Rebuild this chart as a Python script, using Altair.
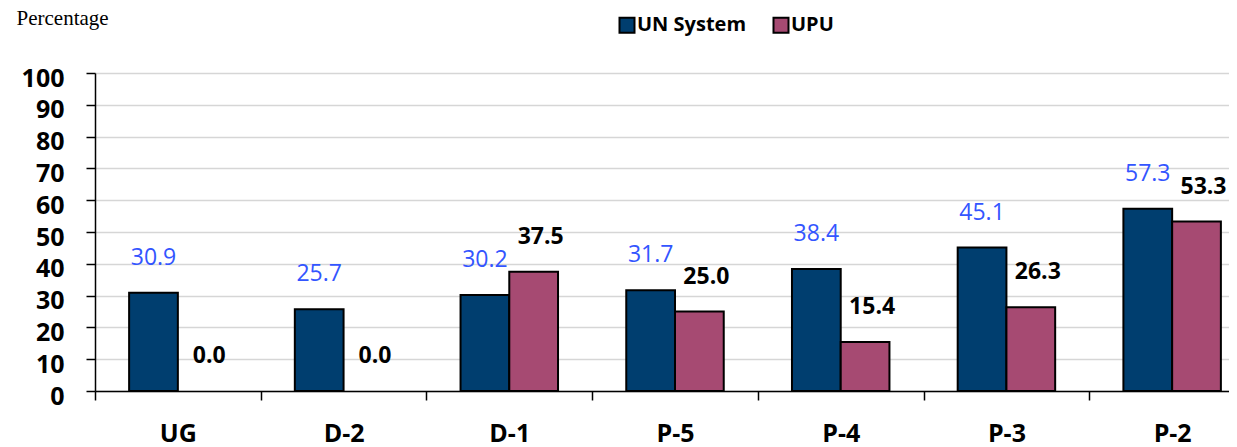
import altair as alt
import pandas as pd

categories = ["UG", "D-2", "D-1", "P-5", "P-4", "P-3", "P-2"]
series = ["UN System", "UPU"]
un_system = [30.9, 25.7, 30.2, 31.7, 38.4, 45.1, 57.3]
upu = [0.0, 0.0, 37.5, 25.0, 15.4, 26.3, 53.3]
y_ticks = list(range(0, 101, 10))

rows = []
for c, a, b in zip(categories, un_system, upu):
    rows.append({"category": c, "series": "UN System", "value": a})
    rows.append({"category": c, "series": "UPU", "value": b})
df = pd.DataFrame(rows)

FONT = "Open Sans"

x_enc = alt.X(
    "category:N",
    sort=categories,
    scale=alt.Scale(range=[0, 1160], paddingInner=0, paddingOuter=0),
    axis=alt.Axis(
        title=None, labelAngle=0, tickBand="extent", grid=False,
        labelFont=FONT, labelFontSize=25, labelFontWeight="bold", labelColor="black",
        labelBaseline="middle", labelPadding=33, labelOverlap=False,
        domainColor="black", domainWidth=1.5, tickColor="black", tickWidth=1.5, tickSize=9,
    ),
)
xoff_enc = alt.XOffset(
    "series:N", sort=series, scale=alt.Scale(domain=series, paddingInner=0, paddingOuter=0.7)
)
y_enc = alt.Y(
    "value:Q",
    scale=alt.Scale(domain=[0, 100], nice=False),
    axis=alt.Axis(
        values=y_ticks, title="Percentage", titleAngle=0, titleX=-79, titleY=-49,
        titleAlign="left", titleBaseline="alphabetic", titleFont="Liberation Serif",
        titleFontWeight="normal", titleFontSize=21, titleColor="black",
        labelFont=FONT, labelFontSize=25, labelFontWeight="bold", labelColor="black",
        labelBaseline="middle", labelOffset=5, labelPadding=22, labelOverlap=False,
        domainColor="black", domainWidth=1.5, tickColor="black", tickWidth=1.5, tickSize=9,
        grid=True, gridColor="#d6d6d6", gridWidth=1.5,
    ),
)

bars = alt.Chart(df).transform_filter(alt.datum.value > 0).mark_bar(
    stroke="black", strokeWidth=2
).encode(
    x=x_enc,
    xOffset=xoff_enc,
    y=y_enc,
    color=alt.Color(
        "series:N",
        sort=series,
        scale=alt.Scale(domain=series, range=["#003E6F", "#A64A72"]),
        legend=alt.Legend(
            title=None, orient="none", direction="horizontal",
            legendX=522, legendY=-58,
            symbolType="square", symbolSize=225, symbolStrokeColor="black",
            symbolStrokeWidth=2, symbolOpacity=1,
            labelFont=FONT, labelFontSize=20, labelFontWeight="bold", labelColor="black",
            labelOffset=0, columnPadding=22,
        ),
    ),
)

text_un = alt.Chart(df).transform_filter(alt.datum.series == "UN System").mark_text(
    font=FONT, fontSize=23, color="#3355FF", baseline="middle", dy=-35
).encode(
    x=x_enc,
    xOffset=xoff_enc,
    y=y_enc,
    text=alt.Text("value:Q", format=".1f"),
)

text_upu = alt.Chart(df).transform_filter(alt.datum.series == "UPU").mark_text(
    font=FONT, fontSize=23, fontWeight="bold", color="black", baseline="middle", dy=-35, dx=7
).encode(
    x=x_enc,
    xOffset=xoff_enc,
    y=y_enc,
    text=alt.Text("value:Q", format=".1f"),
)

chart = alt.layer(bars, text_un, text_upu).properties(
    width=1134,
    height=318,
    padding={"left": 87, "top": 65, "right": 0, "bottom": 62},
    autosize=alt.AutoSizeParams(type="none"),
).configure_view(stroke=None).configure(background="white")

chart.save("out.html", embed_options={"renderer": "svg", "actions": False})
